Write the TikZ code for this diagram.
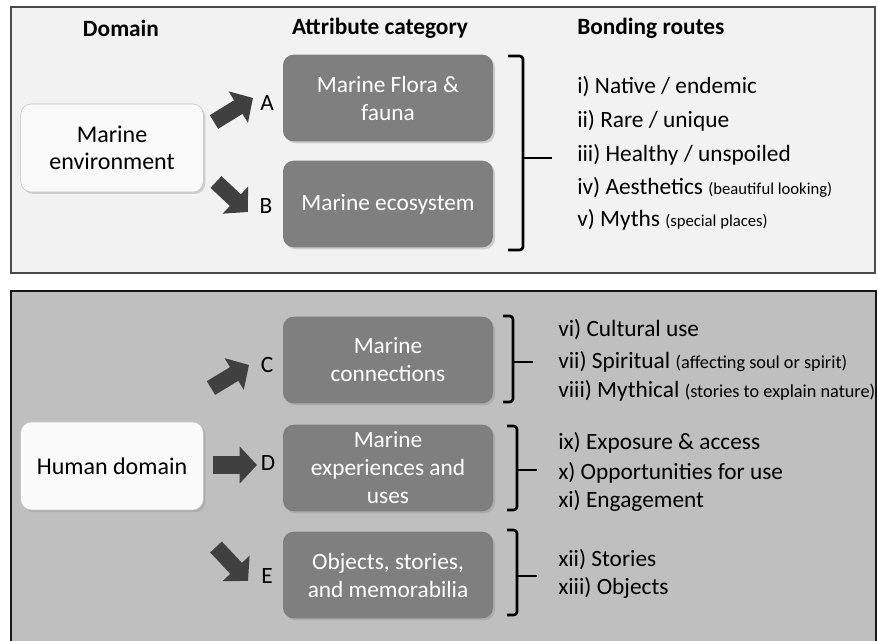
\documentclass[tikz,border=0pt]{standalone}
\usepackage{fontspec}
\setmainfont{Carlito}
\usetikzlibrary{positioning,shadows,arrows.meta}

\definecolor{topbg}{HTML}{F2F2F2}
\definecolor{botbg}{HTML}{BFBFBF}
\definecolor{catgray}{HTML}{7F7F7F}
\definecolor{arrowgray}{HTML}{404040}
\definecolor{domfill}{HTML}{FAFAFA}
\definecolor{domline}{HTML}{C4C4C4}

\newcommand{\routenote}[2][12.5]{{\fontsize{#1}{14}\selectfont #2}}

\tikzset{
  txt/.style={font=\fontsize{17.5}{21}\selectfont, inner sep=0pt},
  heading/.style={txt, font=\fontsize{17.5}{21}\selectfont\bfseries},
  route/.style={txt, anchor=west},
  letter/.style={txt},
  catbox/.style={rectangle, rounded corners=8pt, fill=catgray, text=white,
    minimum width=157.5pt, minimum height=65pt, align=center,
    font=\fontsize{17.5}{21}\selectfont,
    drop shadow={opacity=0.3, shadow xshift=1.5pt, shadow yshift=-1.5pt}},
  domainbox/.style={rectangle, rounded corners=8pt, draw=domline, fill=domfill,
    minimum width=137pt, minimum height=66pt, align=center,
    font=\fontsize{18}{20}\selectfont,
    drop shadow={opacity=0.3, shadow xshift=1.5pt, shadow yshift=-1.5pt}},
  bigarrow/.style={draw=arrowgray, line width=12pt,
    -{Triangle[length=13pt, width=27pt]}},
  bracket/.style={line width=2pt, rounded corners=2.5pt}
}

\begin{document}
\begin{tikzpicture}[x=0.75pt,y=-0.75pt]
\useasboundingbox (0,0) rectangle (878,641);

% panels
\draw[draw=black!70, fill=topbg, line width=0.8pt] (11,7) rectangle (875,273);
\draw[draw=black!90, fill=botbg, line width=0.8pt] (11,291) rectangle (876,645);

% headings
\node[heading] (hdom) at (121,28) {Domain};
\node[heading] (hcat) at (380,28) {Attribute category};
\node[heading, anchor=west] (hroute) at (577,28) {Bonding routes};

% domains
\node[domainbox] (env) at (112,148) {Marine\\environment};
\node[domainbox] (human) at (112,466) {Human domain};

% attribute categories
\node[catbox] (catA) at (388,98) {Marine Flora \&\\fauna};
\node[catbox] (catB) at (388,204) {Marine ecosystem};
\node[catbox] (catC) at (388,360) {Marine\\connections};
\node[catbox] (catD) at (388,468) {Marine\\experiences and\\uses};
\node[catbox] (catE) at (388,575) {Objects, stories,\\and memorabilia};

% letters
\node[letter] (labA) at (267,103) {A};
\node[letter] (labB) at (266,206) {B};
\node[letter] (labC) at (267,365) {C};
\node[letter] (labD) at (268,463) {D};
\node[letter] (labE) at (267,576) {E};

% block arrows
\coordinate (tA) at (214,122); \coordinate (hA) at (253,98);
\coordinate (tB) at (216,182); \coordinate (hB) at (248,212);
\coordinate (tC) at (211,388); \coordinate (hC) at (249,365);
\coordinate (tD) at (213,465); \coordinate (hD) at (257,465);
\coordinate (tE) at (216,547); \coordinate (hE) at (248,581);
\draw[bigarrow] (tA) -- (hA);
\draw[bigarrow] (tB) -- (hB);
\draw[bigarrow] (tC) -- (hC);
\draw[bigarrow, line width=13.5pt] (tD) -- (hD);
\draw[bigarrow] (tE) -- (hE);

% brackets
\draw[bracket] (508,56) -- (523,56) -- (523,250) -- (508,250);
\draw[bracket] (523,158) -- (552,158);
\draw[bracket] (503,316) -- (513,316) -- (513,402) -- (503,402);
\draw[bracket] (513,362) -- (533,362);
\draw[bracket] (507,426) -- (517,426) -- (517,510) -- (507,510);
\draw[bracket] (517,470) -- (537,470);
\draw[bracket] (507,530) -- (517,530) -- (517,615) -- (507,615);
\draw[bracket] (517,576) -- (537,576);

% bonding routes
\node[route] (r1) at (577,87) {i) Native / endemic};
\node[route] (r2) at (577,121) {ii) Rare / unique};
\node[route] (r3) at (577,155) {iii) Healthy / unspoiled};
\node[route] (r4) at (577,188) {iv) Aesthetics \routenote{(beautiful looking)}};
\node[route] (r5) at (577,220) {v) Myths \routenote{(special places)}};

\node[route] (r6) at (558,330) {vi) Cultural use};
\node[route] (r7) at (558,362) {vii) Spiritual \routenote[13.7]{(affecting soul or spirit)}};
\node[route] (r8) at (558,391) {viii) Mythical \routenote[13.7]{(stories to explain nature)}};
\node[route] (r9) at (558,443) {ix) Exposure \& access};
\node[route] (r10) at (558,473) {x) Opportunities for use};
\node[route] (r11) at (558,501) {xi) Engagement};
\node[route] (r12) at (558,560) {xii) Stories};
\node[route] (r13) at (558,588) {xiii) Objects};
\end{tikzpicture}
\end{document}
